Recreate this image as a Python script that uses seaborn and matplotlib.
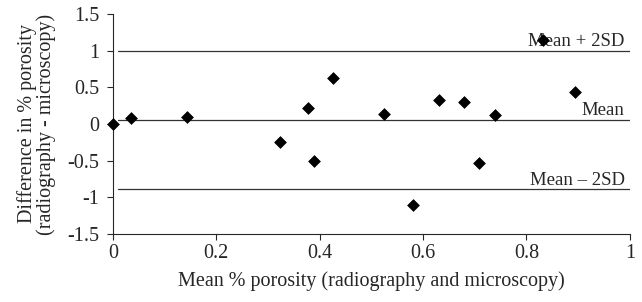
import matplotlib
matplotlib.use("Agg")
import matplotlib.pyplot as plt
import pandas as pd
import seaborn as sns

mean_porosity = [0.0, 0.035, 0.143, 0.323, 0.377, 0.389, 0.426, 0.524, 0.58,
                 0.631, 0.679, 0.708, 0.739, 0.832, 0.894]
diff_porosity = [0.0, 0.08, 0.10, -0.25, 0.22, -0.51, 0.63, 0.14, -1.10,
                 0.33, 0.30, -0.53, 0.12, 1.15, 0.44]
limit_names = ["Mean + 2SD", "Mean", "Mean \u2013 2SD"]
limit_values = [1.0, 0.055, -0.89]

df = pd.DataFrame({"x": mean_porosity, "y": diff_porosity})

sns.set_style("ticks")
plt.rcParams["font.family"] = ["Liberation Serif", "DejaVu Serif"]

fig = plt.figure(figsize=(6.42, 3.02), dpi=100)
ax = fig.add_axes([0.176, 0.225, 0.805, 0.729])

for name, val in zip(limit_names, limit_values):
    ax.plot([0.01, 1.0], [val, val], color="#333333", lw=0.9, zorder=1)
    ax.text(0.99, val + 0.01, name, ha="right", va="bottom", fontsize=13.5)

sns.scatterplot(data=df, x="x", y="y", marker="D", s=36, color="black",
                edgecolor="black", linewidth=0.5, ax=ax, zorder=3, clip_on=False)

ax.set_xlim(0, 1)
ax.set_ylim(-1.5, 1.5)
ax.set_xticks([0, 0.2, 0.4, 0.6, 0.8, 1])
ax.set_xticklabels(["0", "0.2", "0.4", "0.6", "0.8", "1"])
ax.set_yticks([-1.5, -1, -0.5, 0, 0.5, 1, 1.5])
ax.set_yticklabels(["-1.5", "-1", "-0.5", "0", "0.5", "1", "1.5"])
ax.tick_params(labelsize=14.5, direction="out", length=4, width=0.8, pad=3)
ax.tick_params(axis="y", pad=6)
ax.set_xlabel("Mean % porosity (radiography and microscopy)", fontsize=14.5, labelpad=6)
ax.set_ylabel("Difference in % porosity\n(radiography - microscopy)", fontsize=14.5,
              labelpad=8, linespacing=0.95)
sns.despine(ax=ax)
for s in ["left", "bottom"]:
    ax.spines[s].set_linewidth(0.8)

fig.savefig("out.png", dpi=100)
